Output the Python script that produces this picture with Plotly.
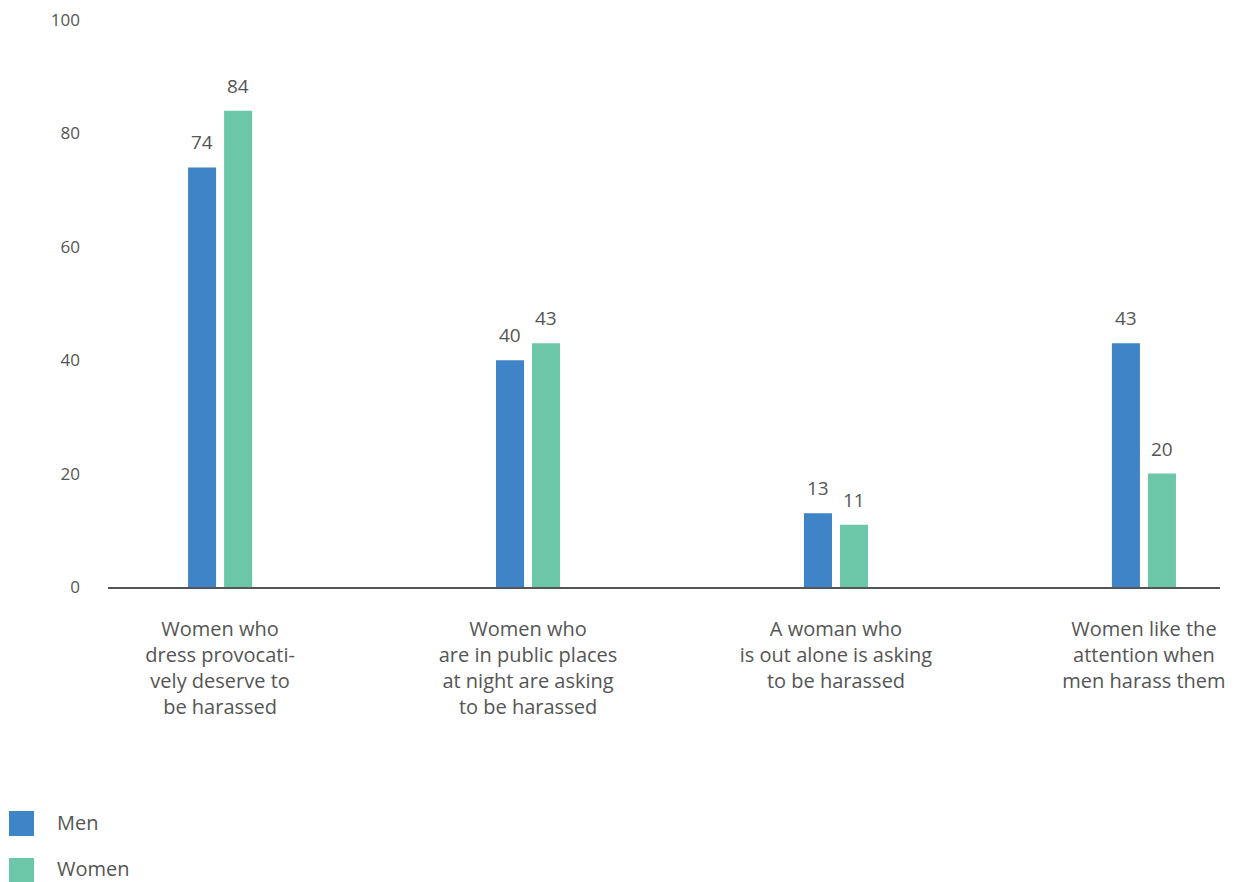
import plotly.graph_objects as go

categories = [
    "Women who<br>dress provocati-<br>vely deserve to<br>be harassed",
    "Women who<br>are in public places<br>at night are asking<br>to be harassed",
    "A woman who<br>is out alone is asking<br>to be harassed",
    "Women like the<br>attention when<br>men harass them",
]
series_names = ["Men", "Women"]
men = [74, 40, 13, 43]
women = [84, 43, 11, 20]
colors = ["#3E84C6", "#6CC7A9"]
y_ticks = [0, 20, 40, 60, 80, 100]

TEXT = "#555555"
FONT = "Open Sans"

fig = go.Figure()
for name, vals, col in zip(series_names, [men, women], colors):
    fig.add_trace(go.Bar(x=categories, y=vals, name=name, marker_color=col,
                         marker_line_width=0, showlegend=False))

# value labels
for idx, vals in enumerate([men, women]):
    shift = -18 if idx == 0 else 18
    for c, v in zip(categories, vals):
        fig.add_annotation(x=c, y=v, text=str(v), showarrow=False,
                           xshift=shift, yshift=25, yanchor="middle",
                           font=dict(family=FONT, size=19, color=TEXT))

# custom legend
legend_rows = [(-249, -224, -0.4145), (-295, -271, -0.4956)]
for (y0, y1, ty), name, col in zip(legend_rows, series_names, colors):
    fig.add_shape(type="rect", xref="paper", yref="paper",
                  xsizemode="pixel", ysizemode="pixel", xanchor=0, yanchor=0,
                  x0=-99, x1=-74, y0=y0, y1=y1, fillcolor=col, line_width=0)
    fig.add_annotation(xref="paper", yref="paper", x=-0.0477, y=ty,
                       xanchor="left", yanchor="middle", text=name, showarrow=False,
                       font=dict(family=FONT, size=20, color=TEXT))

fig.update_layout(
    width=1226, height=874,
    margin=dict(l=100, r=14, t=12, b=295),
    plot_bgcolor="white", paper_bgcolor="white",
    barmode="group", bargap=0.766, bargroupgap=0.222,
    font=dict(family=FONT, color=TEXT),
    xaxis=dict(range=[-0.364, 3.247], showgrid=False, showline=True,
               linecolor="#555555", linewidth=2, ticks="", automargin=False,
               tickfont=dict(family=FONT, size=20, color=TEXT),
               ticklabelstandoff=23, zeroline=False),
    yaxis=dict(range=[0, 100], tickvals=y_ticks, showgrid=False, zeroline=False,
               showline=False, ticks="", ticklabeloverflow="allow", automargin=False,
               tickfont=dict(family=FONT, size=17, color=TEXT),
               ticklabelstandoff=27),
    showlegend=False,
)

fig.write_html("out.html")
